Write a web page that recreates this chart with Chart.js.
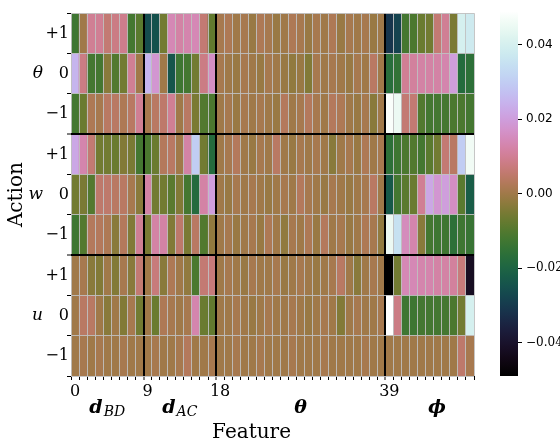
<!DOCTYPE html>
<html>
<head>
<meta charset="utf-8">
<script src="https://cdn.jsdelivr.net/npm/chart.js@4.4.1/dist/chart.umd.min.js"></script>
<style>
  html, body { margin: 0; padding: 0; background: #fff; }
  #wrap { position: relative; width: 560px; height: 445px; overflow: hidden; }
  #heat { position: absolute; left: 0; top: 0; }
  #cbar { position: absolute; left: 500px; top: 0; }
</style>
</head>
<body>
<div id="wrap">
  <canvas id="heat" width="500" height="445"></canvas>
  <canvas id="cbar" width="60" height="445"></canvas>
</div>
<script>
// colour scale limits and ticks
const vmin = -0.049;
const vmax = 0.049;
const colorbarTicks = [-0.04, -0.02, 0, 0.02, 0.04];

// axis labels
const nFeatures = 50;
const featureTicks = [0, 9, 18, 39];
const separatorCols = [9, 18, 39];
const separatorRows = [3, 6];
const actionLabels = ['+1', '0', '\u22121'];
const variableLabels = ['\u03b8', 'w', 'u'];
const featureGroups = [['d', 'BD'], ['d', 'AC'], ['\u03b8', ''], ['\u03d5', '']];
const groupCenters = [4.5, 13.5, 28.5, 45.4];
const featureTitleAt = 22.4;

// one row per (variable, action); columns: d_BD 0-8, d_AC 9-17, theta 18-38, phi 39-49
const thetaPlus = [
  -0.013, 0.000, 0.010, 0.010, 0.006, 0.008, 0.009, -0.012, -0.009,
  -0.026, -0.025, -0.006, 0.014, 0.012, 0.013, 0.014, 0.006, -0.008,
  0.001, 0.002, 0.000, 0.001, -0.001, 0.002, 0.001, -0.001, 0.000, 0.002, 0.001, -0.001, 0.001, 0.000, 0.002, -0.001, 0.001, 0.000, 0.001, -0.001, 0.000,
  -0.031, -0.028, -0.012, -0.011, -0.007, -0.006, 0.006, 0.010, -0.005, 0.040, 0.038
];
const thetaZero = [
  0.025, 0.008, -0.012, -0.012, -0.003, -0.010, -0.006, 0.010, 0.000,
  0.025, 0.018, 0.000, -0.024, -0.013, -0.012, -0.006, 0.008, 0.016,
  0.001, 0.000, -0.001, 0.001, 0.000, -0.001, 0.001, 0.000, -0.001, -0.002, -0.001, -0.004, 0.001, 0.000, 0.001, 0.000, -0.001, 0.001, 0.000, 0.004, 0.000,
  -0.017, -0.015, 0.010, 0.011, 0.012, 0.012, 0.012, 0.013, 0.020, -0.018, -0.016
];
const thetaMinus = [
  -0.012, -0.007, 0.002, 0.001, 0.004, 0.004, 0.002, 0.004, 0.010,
  0.001, 0.004, 0.005, 0.010, 0.000, 0.004, -0.005, -0.010, -0.011,
  0.000, 0.001, -0.001, 0.001, 0.000, 0.001, 0.000, -0.001, 0.003, 0.000, 0.001, 0.003, 0.001, 0.000, 0.003, 0.002, 0.000, -0.001, 0.001, -0.003, 0.000,
  0.048, 0.045, 0.006, 0.006, -0.010, -0.012, -0.012, -0.012, -0.011, -0.011, -0.012
];
const wPlus = [
  0.022, 0.013, 0.006, -0.006, -0.006, -0.007, -0.004, -0.005, -0.012,
  -0.011, -0.007, 0.003, 0.004, 0.000, 0.012, 0.030, -0.006, -0.018,
  0.000, 0.001, 0.003, 0.000, -0.001, 0.001, 0.000, 0.004, 0.000, -0.001, 0.001, 0.000, 0.001, 0.000, -0.003, 0.000, 0.001, -0.001, 0.002, 0.000, 0.001,
  -0.016, -0.013, -0.011, -0.010, -0.012, -0.009, -0.006, 0.006, 0.004, 0.030, 0.046
];
const wZero = [
  -0.006, -0.005, -0.010, 0.005, 0.005, 0.004, 0.004, 0.001, -0.003,
  0.012, -0.006, -0.006, -0.009, -0.004, -0.012, -0.018, 0.012, 0.020,
  0.000, -0.001, 0.001, 0.000, 0.001, 0.000, -0.001, 0.000, 0.001, 0.000, 0.003, 0.001, 0.000, -0.001, 0.001, 0.000, -0.001, 0.000, 0.001, 0.004, 0.000,
  -0.023, -0.012, -0.009, -0.007, 0.010, 0.022, 0.018, 0.020, 0.016, -0.009, -0.022
];
const wMinus = [
  -0.013, -0.010, 0.003, 0.003, 0.002, -0.003, 0.003, -0.004, 0.010,
  -0.005, 0.012, 0.012, -0.004, 0.005, -0.005, 0.004, -0.010, -0.002,
  0.000, 0.001, -0.001, 0.000, 0.001, -0.001, 0.002, 0.000, -0.002, 0.001, 0.000, 0.002, -0.001, 0.003, 0.000, 0.001, -0.001, 0.000, 0.002, 0.001, -0.002,
  0.045, 0.035, 0.015, 0.013, -0.003, -0.012, -0.013, -0.013, -0.016, -0.013, -0.014
];
const uPlus = [
  0.000, 0.001, -0.003, -0.004, 0.000, -0.004, 0.001, -0.003, 0.006,
  0.000, 0.007, -0.003, 0.002, 0.000, -0.002, -0.011, 0.006, 0.007,
  0.000, 0.001, 0.000, -0.001, 0.001, 0.000, 0.000, 0.001, -0.001, 0.000, 0.001, 0.000, -0.001, 0.000, 0.001, 0.004, 0.000, -0.003, 0.000, 0.001, 0.000,
  -0.049, -0.006, 0.014, 0.014, 0.013, 0.013, 0.012, 0.012, 0.011, 0.007, -0.042
];
const uZero = [
  0.000, 0.004, 0.004, 0.000, -0.003, 0.000, -0.004, 0.001, -0.006,
  0.000, -0.007, 0.002, 0.001, 0.000, 0.001, 0.013, -0.007, -0.008,
  0.000, 0.000, 0.001, 0.000, -0.001, 0.000, 0.001, 0.000, 0.000, 0.001, 0.000, -0.001, 0.000, 0.001, 0.000, -0.004, 0.000, 0.001, 0.000, 0.000, 0.001,
  0.049, 0.008, -0.013, -0.013, -0.012, -0.012, -0.012, -0.012, -0.011, -0.006, 0.040
];
const uMinus = [
  0.000, 0.001, 0.000, 0.001, 0.000, 0.000, 0.001, 0.000, 0.000,
  0.000, 0.001, 0.000, 0.000, 0.001, 0.003, 0.000, 0.000, 0.001,
  0.000, 0.000, 0.001, 0.000, 0.000, 0.001, 0.000, 0.000, 0.000, 0.001, 0.000, 0.000, 0.000, 0.001, 0.000, 0.000, 0.000, 0.000, 0.001, 0.000, 0.000,
  0.000, 0.000, 0.000, 0.000, 0.000, 0.000, 0.000, 0.000, 0.000, 0.005, 0.001
];
const rows = [thetaPlus, thetaZero, thetaMinus, wPlus, wZero, wMinus, uPlus, uZero, uMinus];

// matplotlib "cubehelix" colormap
function cubehelix(t) {
  const a = t * (1 - t) / 2;
  const phi = 2 * Math.PI * (0.5 / 3 - 1.5 * t);
  const c = Math.cos(phi), s = Math.sin(phi);
  const f = v => Math.round(255 * Math.min(1, Math.max(0, v)));
  const r = t + a * (-0.14861 * c + 1.78277 * s);
  const g = t + a * (-0.29227 * c - 0.90649 * s);
  const b = t + a * (1.97294 * c);
  return 'rgb(' + f(r) + ',' + f(g) + ',' + f(b) + ')';
}
function heatColor(v) {
  return cubehelix(Math.min(1, Math.max(0, (v - vmin) / (vmax - vmin))));
}

const cells = [];
rows.forEach((vals, r) => {
  vals.forEach((v, c) => cells.push({ x: c + 0.5, y: [r, r + 1], v: v }));
});

const gray = 'rgba(192,192,192,0.9)';
const serif = 'DejaVu Serif';

// group names under the feature axis and the "Feature" title
const groupLabels = {
  id: 'groupLabels',
  afterDraw(chart) {
    const ctx = chart.ctx;
    const x = chart.scales.x;
    const base = chart.chartArea.bottom + 37;
    const big = 'italic bold 19px "DejaVu Serif"';
    const small = 'italic 14px "DejaVu Serif"';
    ctx.save();
    ctx.fillStyle = '#000';
    ctx.textBaseline = 'alphabetic';
    ctx.textAlign = 'left';
    featureGroups.forEach(([main, sub], i) => {
      ctx.font = big;
      const w1 = ctx.measureText(main).width;
      ctx.font = small;
      const w2 = sub ? ctx.measureText(sub).width + 1 : 0;
      const left = x.getPixelForValue(groupCenters[i]) - (w1 + w2) / 2;
      ctx.font = big;
      ctx.fillText(main, left, base);
      if (sub) {
        ctx.font = small;
        ctx.fillText(sub, left + w1 + 1, base + 3);
      }
    });
    ctx.font = '20px "DejaVu Serif"';
    ctx.textAlign = 'center';
    ctx.fillText('Feature', x.getPixelForValue(featureTitleAt), chart.chartArea.bottom + 62);
    ctx.restore();
  }
};

new Chart(document.getElementById('heat'), {
  type: 'bar',
  data: {
    datasets: [{
      data: cells,
      xAxisID: 'x',
      yAxisID: 'y',
      backgroundColor: ctx => heatColor(ctx.raw.v),
      borderWidth: 0,
      barPercentage: 1,
      categoryPercentage: 1
    }]
  },
  options: {
    responsive: false,
    animation: false,
    layout: { padding: { top: 10, right: 26, left: 0, bottom: 0 } },
    plugins: { legend: { display: false }, tooltip: { enabled: false } },
    scales: {
      x: {
        type: 'linear',
        min: 0,
        max: nFeatures,
        offset: false,
        afterBuildTicks: s => { s.ticks = Array.from({ length: nFeatures + 1 }, (_, i) => ({ value: i })); },
        afterFit: s => { s.height = 69; },
        grid: {
          offset: false,
          z: 1,
          color: c => separatorCols.includes(c.tick.value) ? '#000' : gray,
          lineWidth: c => separatorCols.includes(c.tick.value) ? 2 : 1,
          tickLength: 4,
          tickColor: '#000',
          tickWidth: 1
        },
        border: { display: false },
        ticks: {
          autoSkip: false,
          maxRotation: 0,
          labelOffset: 4,
          padding: 2,
          color: '#000',
          font: { family: serif, size: 16 },
          callback: v => featureTicks.includes(v) ? String(v) : ''
        }
      },
      y: {
        type: 'linear',
        min: 0,
        max: 9,
        reverse: true,
        position: 'left',
        weight: 0,
        afterBuildTicks: s => { s.ticks = Array.from({ length: 10 }, (_, i) => ({ value: i })); },
        afterFit: s => { s.width = 25; },
        grid: {
          z: 1,
          color: c => separatorRows.includes(c.tick.value) ? '#000' : gray,
          lineWidth: c => separatorRows.includes(c.tick.value) ? 2 : 1,
          tickLength: 4,
          tickColor: '#000',
          tickWidth: 1
        },
        border: { display: false },
        ticks: {
          autoSkip: false,
          labelOffset: 20.3,
          padding: -2,
          color: '#000',
          font: { family: serif, size: 16 },
          callback: v => v < 9 ? actionLabels[v % 3] : ''
        }
      },
      y2: {
        type: 'linear',
        min: 0,
        max: 9,
        reverse: true,
        position: 'left',
        weight: 1,
        afterBuildTicks: s => { s.ticks = [1.5, 4.5, 7.5].map(v => ({ value: v })); },
        afterFit: s => { s.width = 46; },
        grid: { display: false, drawTicks: false },
        border: { display: false },
        ticks: {
          padding: 3,
          color: '#000',
          font: { family: serif, size: 17, style: 'italic' },
          callback: v => variableLabels[Math.floor(v / 3)]
        },
        title: {
          display: true,
          text: 'Action',
          color: '#000',
          font: { family: serif, size: 20 },
          padding: { top: 5, bottom: 0 }
        }
      }
    }
  },
  plugins: [groupLabels]
});

// colour bar
function colorbarFill(chart) {
  const a = chart.chartArea;
  if (!a) return '#888';
  const g = chart.ctx.createLinearGradient(0, a.bottom, 0, a.top);
  for (let i = 0; i <= 40; i++) g.addColorStop(i / 40, cubehelix(i / 40));
  return g;
}

new Chart(document.getElementById('cbar'), {
  type: 'bar',
  data: {
    labels: [''],
    datasets: [{
      data: [[vmin, vmax]],
      backgroundColor: ctx => colorbarFill(ctx.chart),
      borderWidth: 0,
      barPercentage: 1,
      categoryPercentage: 1
    }]
  },
  options: {
    responsive: false,
    animation: false,
    layout: { padding: { top: 10, bottom: 69, left: 0, right: 0 } },
    plugins: { legend: { display: false }, tooltip: { enabled: false } },
    scales: {
      x: { display: false },
      y: {
        position: 'right',
        min: vmin,
        max: vmax,
        afterBuildTicks: s => { s.ticks = colorbarTicks.map(v => ({ value: v })); },
        afterFit: s => { s.width = 42; },
        grid: { drawOnChartArea: false, tickLength: 4, tickColor: '#000', tickWidth: 1 },
        border: { display: false },
        ticks: {
          padding: 4,
          color: '#000',
          font: c => c.tick && c.tick.value < 0 ? { family: serif, size: 12 } : { family: 'DejaVu Sans', size: 12 },
          callback: v => (v < 0 ? '\u2212' : '') + Math.abs(v).toFixed(2)
        }
      }
    }
  }
});
</script>
</body>
</html>
